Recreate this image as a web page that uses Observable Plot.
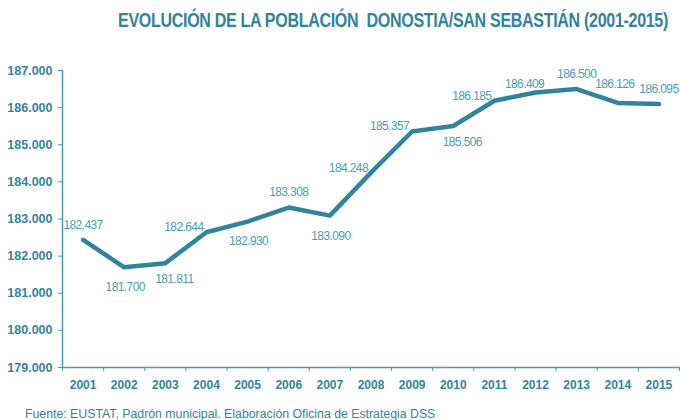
<!DOCTYPE html>
<html>
<head>
<meta charset="utf-8">
<script src="https://cdn.jsdelivr.net/npm/d3@7"></script>
<script src="https://cdn.jsdelivr.net/npm/@observablehq/plot@0.6"></script>
<style>
  html, body { margin: 0; padding: 0; background: #fff; width: 680px; height: 420px; overflow: hidden; }
  #titlebox { height: 40px; position: relative; }
  #title { position: absolute; left: 118px; top: 9px; white-space: nowrap; transform-origin: 0 0;
    font-family: "Liberation Sans", Arial, sans-serif; font-weight: bold;
    font-size: 20px; line-height: 22px; color: #31849B; letter-spacing: -0.4px; }
  #caption { padding-left: 25px; margin-top: 12px; white-space: nowrap;
    font-family: "Liberation Sans", Arial, sans-serif; font-size: 12.3px; color: #31849B; }
  #chart svg { display: block; }
</style>
</head>
<body>
<div id="titlebox"><div id="title">EVOLUCIÓN DE LA POBLACIÓN&nbsp; DONOSTIA/SAN SEBASTIÁN (2001-2015)</div></div>
<div id="chart"></div>
<div id="caption">Fuente: EUSTAT, Padrón municipal. Elaboración Oficina de Estrategia DSS</div>
<script>
const years = [2001, 2002, 2003, 2004, 2005, 2006, 2007, 2008, 2009, 2010, 2011, 2012, 2013, 2014, 2015];
const population = [182437, 181700, 181811, 182644, 182930, 183308, 183090, 184248, 185357, 185506, 186185, 186409, 186500, 186126, 186095];
const yTicks = [179000, 180000, 181000, 182000, 183000, 184000, 185000, 186000, 187000];
const labelPlacement = ["above", "below", "belowRight", "left", "below", "above", "below", "left", "left", "belowRight", "left", "aboveLeft", "above", "aboveHigh", "above"];

const es = d3.formatLocale({decimal: ",", thousands: ".", grouping: [3], currency: ["", "€"]});
const fmt = es.format(",d");

const data = years.map((year, i) => ({year, value: population[i], place: labelPlacement[i]}));
const boundaries = years.map(y => y - 0.5).concat([years[years.length - 1] + 0.5]);

const teal = "#31849B";
const axisColor = "#4a9bb0";
const labelColor = "#4a9db3";

// label placement styles (offsets in pixels)
const placeStyle = {
  above:      {dx: 0,   dy: -15, textAnchor: "middle"},
  aboveHigh:  {dx: -3,  dy: -19, textAnchor: "middle"},
  aboveLeft:  {dx: -11, dy: -8,  textAnchor: "middle"},
  below:      {dx: 1,   dy: 20,  textAnchor: "middle"},
  belowRight: {dx: 9,   dy: 16,  textAnchor: "middle"},
  left:       {dx: -3,  dy: -5,  textAnchor: "end"}
};

// fit the title (condensed look) into its width
const titleEl = document.getElementById("title");
const tw = titleEl.getBoundingClientRect().width;
titleEl.style.transform = `scaleX(${550 / tw})`;

const labelMarks = Object.entries(placeStyle).map(([place, s]) =>
  Plot.text(data.filter(d => d.place === place), {
    x: "year", y: "value", text: d => fmt(d.value),
    dx: s.dx, dy: s.dy, textAnchor: s.textAnchor,
    fill: labelColor, fontSize: 12
  })
);

const chart = Plot.plot({
  width: 680,
  height: 355,
  marginTop: 30,
  marginBottom: 28,
  marginLeft: 62,
  marginRight: 1,
  style: {fontFamily: "Liberation Sans, Arial, sans-serif", background: "#fff"},
  x: {domain: [years[0] - 0.5, years[years.length - 1] + 0.5]},
  y: {domain: [yTicks[0], yTicks[yTicks.length - 1]]},
  marks: [
    Plot.axisY({ticks: yTicks, tickFormat: fmt, tickSize: 4, tickPadding: 6, fontSize: 12.5, fontWeight: "bold", fill: teal, stroke: axisColor, label: null}),
    Plot.axisX({ticks: boundaries, tickFormat: () => "", tickSize: 4, stroke: axisColor, label: null}),
    Plot.axisX({ticks: years, tickFormat: d => String(d), tickSize: 0, tickPadding: 13, fontSize: 12, fontWeight: "bold", fill: teal, label: null}),
    Plot.frame({anchor: "left", stroke: axisColor, strokeWidth: 1.5}),
    Plot.frame({anchor: "bottom", stroke: axisColor, strokeWidth: 1.5}),
    Plot.line(data, {x: "year", y: "value", stroke: teal, strokeWidth: 4.5, strokeLinecap: "round", strokeLinejoin: "round"}),
    ...labelMarks
  ]
});
document.getElementById("chart").appendChild(chart);
// tighter letter spacing on data labels, as in the reference
chart.querySelectorAll('g[aria-label="text"]').forEach(g => g.setAttribute("letter-spacing", "-0.6"));
</script>
</body>
</html>
